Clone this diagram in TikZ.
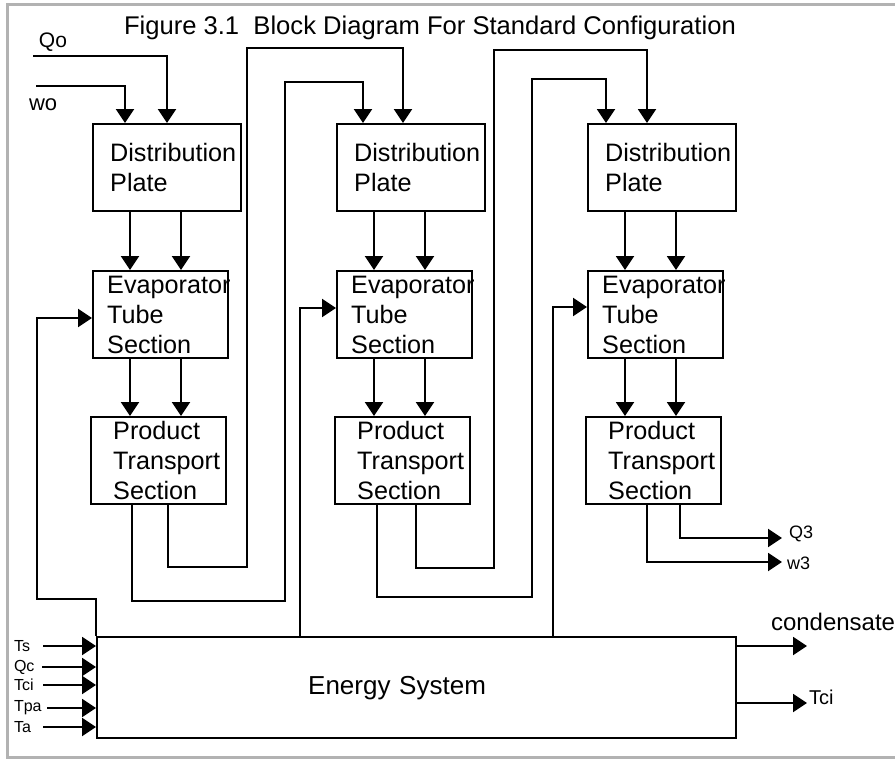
\documentclass[tikz,border=0pt]{standalone}
\usepackage{fontspec}
\setmainfont{Liberation Sans}
\usetikzlibrary{arrows.meta,calc}
\hyphenpenalty=10000

\begin{document}
\begin{tikzpicture}[x=0.5pt,y=-0.5pt,line width=1pt,
    arr/.style={-{Triangle[length=7pt,width=9pt]}},
    blk/.style={draw,line width=1.2pt,anchor=north west,align=left,inner ysep=0.5pt,
      minimum height=43.5pt,font=\fontsize{12.6}{15}\selectfont},
    lbl/.style={inner sep=0pt,anchor=west,font=\fontsize{9}{10}\selectfont}]
  \useasboundingbox (0,0) rectangle (895,760);
  % frame and title
  \draw[gray!60,line width=1.5pt] (895,4) -- (7,4) -- (7,757) -- (895,757);
  \node[anchor=west,inner sep=0pt,font=\fontsize{12.8}{15}\selectfont] (title) at (123,28) {Figure 3.1\ \ Block Diagram For Standard Configuration};

  % the three stages
  \foreach \i/\x in {1/92,2/336,3/587}{
    \node[blk,minimum width=74pt,text width=57pt,inner xsep=8.5pt] (d\i) at (\x,123) {Distribution\\Plate};
    \node[blk,minimum width=67.5pt,text width=53.5pt,inner xsep=7pt] (e\i) at (\x,270) {Evaporator\\Tube\\Section};
    \node[blk,minimum width=67.5pt,text width=45.5pt,inner xsep=11pt] (p\i) at ({\x-2},416) {Product\\Transport\\Section};
    \draw[arr] ($(d\i.south west)+(38,0)$) -- ($(e\i.north west)+(38,0)$);
    \draw[arr] ($(d\i.south west)+(89,0)$) -- ($(e\i.north west)+(89,0)$);
    \draw[arr] ($(e\i.south west)+(38,0)$) -- ($(p\i.north west)+(40,0)$);
    \draw[arr] ($(e\i.south west)+(89,0)$) -- ($(p\i.north west)+(91,0)$);
  }

  \node[draw,line width=1.2pt,anchor=north west,minimum width=319.5pt,minimum height=50.5pt,
    text width=108.5pt,inner xsep=105.5pt,align=left,font=\fontsize{13}{15}\selectfont] (es) at (96,636) {Energy System};

  % feed to first stage
  \node[lbl,font=\fontsize{10.5}{12}\selectfont] (q0lab) at (38,42) {Qo};
  \node[lbl,font=\fontsize{11}{12}\selectfont] (w0lab) at (28,105) {wo};
  \coordinate (q0) at (33,56);
  \coordinate (w0) at (36,86);
  \draw[arr] (q0) -| ($(d1.north west)+(75,0)$);
  \draw[arr] (w0) -| ($(d1.north west)+(33,0)$);

  % stage 1 -> stage 2
  \draw[arr] ($(p1.south west)+(78,0)$) |- (247,567) |- (403,48) -- ($(d2.north west)+(67,0)$);
  \draw[arr] ($(p1.south west)+(42,0)$) |- (285,601) |- (363,82) -- ($(d2.north west)+(27,0)$);
  % stage 2 -> stage 3
  \draw[arr] ($(p2.south west)+(82,0)$) |- (494,568) |- (647,50) -- ($(d3.north west)+(60,0)$);
  \draw[arr] ($(p2.south west)+(43,0)$) |- (532,597) |- (606,79) -- ($(d3.north west)+(19,0)$);
  % stage 3 out
  \coordinate (q3) at (782,538);
  \coordinate (w3) at (782,562);
  \draw[arr] ($(p3.south west)+(95,0)$) |- (q3);
  \draw[arr] ($(p3.south west)+(62,0)$) |- (w3);
  \node[lbl] (q3lab) at (788,534) {Q3};
  \node[lbl] (w3lab) at (786,563) {w3};

  % heat to the evaporators
  \draw[arr] (es.north west) -- (96,599) -- (37,599) |- ($(e1.north west)+(0,48)$);
  \draw[arr] ($(es.north west)+(204,0)$) |- ($(e2.north west)+(0,38)$);
  \draw[arr] ($(es.north west)+(457,0)$) |- ($(e3.north west)+(0,37)$);

  % energy system in/out
  \foreach \n/\t/\y/\s in {ts/Ts/646/43,qc/Qc/667/42,tc/Tci/685/43,tp/Tpa/708/47,ta/Ta/727/43}{
    \node[lbl,font=\fontsize{8}{9}\selectfont] (\n) at (13,\y) {\t};
    \coordinate (s\n) at (\s,\y);
    \draw[arr] (s\n) -- (s\n -| es.west);
  }
  \coordinate (cond) at (807,646);
  \coordinate (tco) at (807,703);
  \draw[arr] ($(es.north east)+(0,10)$) -- (cond);
  \draw[arr] ($(es.north east)+(0,67)$) -- (tco);
  \node[lbl,font=\fontsize{12}{14}\selectfont] (condlab) at (770,622) {condensate};
  \node[lbl,font=\fontsize{10}{12}\selectfont] (tcolab) at (808,697) {Tci};
\end{tikzpicture}
\end{document}
